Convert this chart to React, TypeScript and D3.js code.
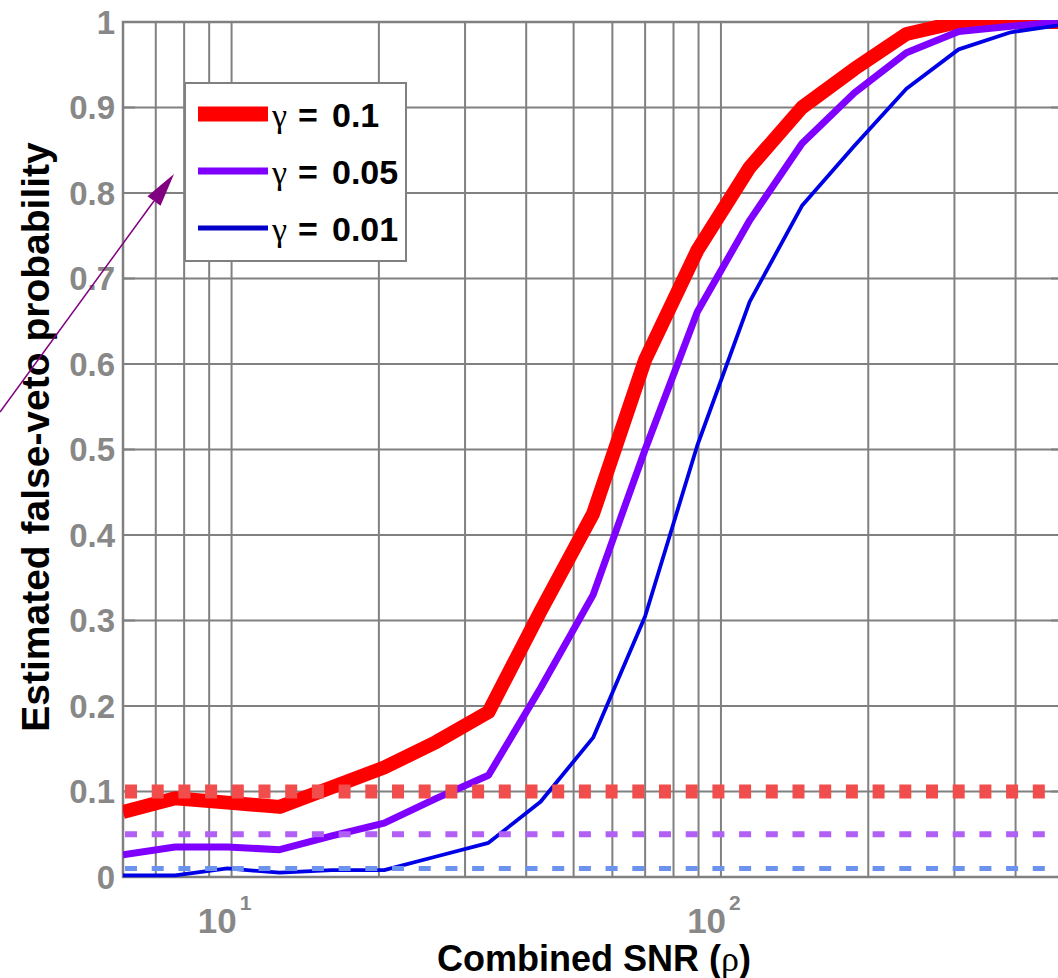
import React from 'react';
import * as d3 from 'd3';

// Combined SNR sample points
const snr = [6, 7.67, 9.81, 12.54, 16.03, 20.5, 26.2, 33.5, 42.8, 54.8, 70.0, 89.5, 114.5, 146.4, 187.2, 239.3, 306, 391, 500];
// Estimated false-veto probability for each gamma
const gamma01 = [0.076, 0.092, 0.087, 0.082, 0.105, 0.128, 0.158, 0.193, 0.311, 0.425, 0.605, 0.733, 0.830, 0.900, 0.945, 0.986, 1.0, 1.0, 1.0];
const gamma005 = [0.026, 0.035, 0.035, 0.032, 0.048, 0.063, 0.092, 0.119, 0.221, 0.330, 0.50, 0.661, 0.768, 0.858, 0.917, 0.964, 0.989, 0.995, 1.0];
const gamma001 = [0.002, 0.002, 0.010, 0.005, 0.008, 0.008, 0.024, 0.040, 0.088, 0.163, 0.305, 0.505, 0.673, 0.785, 0.855, 0.922, 0.968, 0.988, 0.997];

const gammaLabels = ['0.1', '0.05', '0.01'];
const thresholds = [0.1, 0.05, 0.01];
const yTicks = [0, 0.1, 0.2, 0.3, 0.4, 0.5, 0.6, 0.7, 0.8, 0.9, 1];
const yTickLabels = ['0', '0.1', '0.2', '0.3', '0.4', '0.5', '0.6', '0.7', '0.8', '0.9', '1'];
const xMajor = [10, 100];
const xMajorExp = ['1', '2'];
const xGrid = [7, 8, 9, 10, 20, 30, 40, 50, 60, 70, 80, 90, 100, 200, 300, 400];

const curveColors = ['#ff0000', '#7f00ff', '#0000e6'];
const curveWidths = [14, 7, 3.8];
const legendWidths = [15, 7, 5];
const legendColors = ['#ff0000', '#7f00ff', '#0000c8'];
const threshColors = ['#f24d4d', '#b15ff4', '#6a92ee'];
const threshWidths = [14, 6, 5];
const threshDash = ['12 14.7', '12 14.7', '12 14.7'];

export default function App() {
  const W = 1058, H = 978;
  const left = 123, right = 1063, top = 22, bottom = 877;
  const x = d3.scaleLog().domain([6, 500]).range([left, right]);
  const y = d3.scaleLinear().domain([0, 1]).range([bottom, top]);
  const series = [gamma01, gamma005, gamma001];
  const line = d3.line<number>().x((_, i) => x(snr[i])).y((d) => y(d));
  const grid = '#808080';
  const tickColor = '#888888';
  const sans = 'Liberation Sans, Arial, Helvetica, sans-serif';
  const serif = 'Liberation Serif, DejaVu Serif, serif';

  // arrow annotation
  const a0 = [0, 412], ab = [154, 201], tip = [174, 174];
  const perp = [6.5, 4.7];

  return (
    <svg width={W} height={H} style={{ position: 'absolute', left: 0, top: 0, background: '#fff' }}>
      <defs>
        <clipPath id="plotclip">
          <rect x={left} y={top - 2} width={right - left} height={bottom - top + 4} />
        </clipPath>
      </defs>
      <rect x={0} y={0} width={W} height={H} fill="#fff" />
      {/* grid */}
      {xGrid.map((v) => (
        <line key={'gx' + v} x1={x(v)} x2={x(v)} y1={top} y2={bottom} stroke={grid} strokeWidth={2} />
      ))}
      {yTicks.map((v) => (
        <line key={'gy' + v} x1={left} x2={right} y1={y(v)} y2={y(v)} stroke={grid} strokeWidth={2} />
      ))}
      {/* axes box */}
      <rect x={left} y={top} width={right - left} height={bottom - top} fill="none" stroke={grid} strokeWidth={2.5} />
      {yTicks.map((v) => (
        <g key={'tk' + v}>
          <line x1={left} x2={left + 12} y1={y(v)} y2={y(v)} stroke={grid} strokeWidth={2} />
          <line x1={right - 12} x2={right} y1={y(v)} y2={y(v)} stroke={grid} strokeWidth={2} />
        </g>
      ))}
      {/* curves */}
      <g clipPath="url(#plotclip)">
        {series.map((s, k) => (
          <path key={'c' + k} d={line(s) || ''} fill="none" stroke={curveColors[k]} strokeWidth={curveWidths[k]} strokeLinejoin="round" />
        ))}
        {thresholds.map((t, k) => (
          <line key={'t' + k} x1={left + 2} x2={right} y1={y(t)} y2={y(t)} stroke={threshColors[k]} strokeWidth={threshWidths[k]} strokeDasharray={threshDash[k]} />
        ))}
      </g>
      {/* y tick labels */}
      {yTicks.map((v, i) => (
        <text key={'yl' + v} x={115} y={y(v)} dy="0.36em" textAnchor="end" fontFamily={sans} fontWeight="bold" fontSize={33} fill={tickColor}>
          {yTickLabels[i]}
        </text>
      ))}
      {/* x tick labels */}
      {xMajor.map((v, i) => (
        <text key={'xl' + v} x={x(v) - 7} y={933} textAnchor="middle" fontFamily={sans} fontWeight="bold" fontSize={35} fill={tickColor}>
          10
          <tspan dx={3} dy={-23} fontSize={21}>{xMajorExp[i]}</tspan>
        </text>
      ))}
      {/* axis labels */}
      <text x={594} y={971} textAnchor="middle" fontFamily={sans} fontWeight="bold" fontSize={36} fill="#000">
        Combined SNR (<tspan fontFamily={serif} fontWeight="normal">ρ</tspan>)
      </text>
      <text transform="translate(49,437) rotate(-90)" textAnchor="middle" fontFamily={sans} fontWeight="bold" fontSize={39} fill="#000">
        Estimated false-veto probability
      </text>
      {/* legend */}
      <rect x={185} y={83} width={221} height={178} fill="#fff" stroke={grid} strokeWidth={2} />
      {gammaLabels.map((g, k) => {
        const ly = 114 + k * 57;
        return (
          <g key={'lg' + k}>
            <line x1={198} x2={268} y1={ly} y2={ly} stroke={legendColors[k]} strokeWidth={legendWidths[k]} />
            <text x={272} y={ly + 13} fontFamily={serif} fontSize={34} fill="#000">γ</text>
            <text x={298} y={ly + 13} fontFamily={sans} fontWeight="bold" fontSize={34} fill="#000">=</text>
            <text x={332} y={ly + 13} fontFamily={sans} fontWeight="bold" fontSize={34} fill="#000">{g}</text>
          </g>
        );
      })}
      {/* arrow annotation */}
      <line x1={a0[0]} y1={a0[1]} x2={ab[0]} y2={ab[1]} stroke="#800080" strokeWidth={1.5} />
      <polygon
        points={`${tip[0]},${tip[1]} ${ab[0] - perp[0]},${ab[1] - perp[1]} ${ab[0] + perp[0]},${ab[1] + perp[1]}`}
        fill="#800080"
      />
    </svg>
  );
}
